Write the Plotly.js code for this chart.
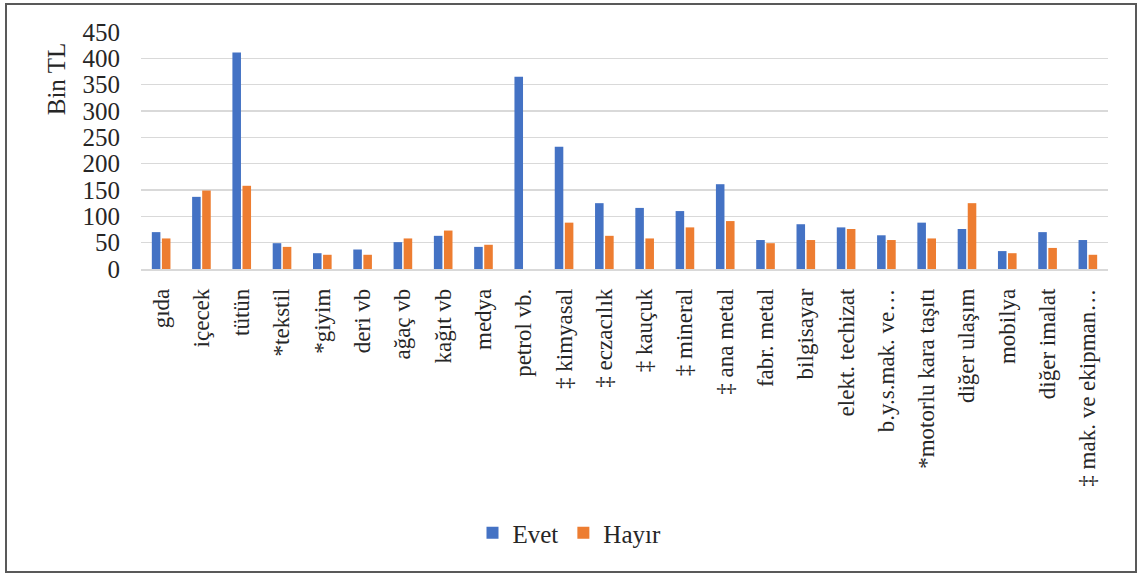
<!DOCTYPE html>
<html>
<head>
<meta charset="utf-8">
<script src="https://cdn.plot.ly/plotly-3.0.1.min.js"></script>
<style>
  html, body { margin: 0; padding: 0; background: #fff; }
  #wrap { position: relative; width: 1139px; height: 577px; }
  #chart { position: absolute; left: 0; top: 0; width: 1139px; height: 577px; }
  #frame { position: absolute; left: 5px; top: 3px; width: 1128px; height: 566px;
           border: 2px solid #595959; pointer-events: none; }
</style>
</head>
<body>
<div id="wrap">
  <div id="chart"></div>
  <div id="frame"></div>
</div>
<script>
// Sectors (x axis categories)
const sectors = [
  "gıda", "içecek", "tütün", "*tekstil", "*giyim", "deri vb", "ağaç vb",
  "kağıt vb", "medya", "petrol vb.", "‡ kimyasal", "‡ eczacılık", "‡ kauçuk",
  "‡ mineral", "‡ ana metal", "fabr. metal", "bilgisayar", "elekt. techizat",
  "b.y.s.mak. ve…", "*motorlu kara taşıtı", "diğer ulaşım", "mobilya",
  "diğer imalat", "‡ mak. ve ekipman…"
];

// Values in thousand TL
const evet = [70, 137, 411, 49, 30, 37, 51, 63, 42, 365, 232, 125, 116,
              110, 161, 55, 85, 79, 64, 88, 76, 34, 70, 55];
const hayir = [58, 149, 158, 42, 27, 27, 58, 73, 46, 0, 88, 63, 58,
               79, 91, 49, 55, 76, 55, 58, 125, 30, 40, 27];

const serif = "Liberation Serif";

const traces = [
  { type: "bar", name: "Evet", x: sectors, y: evet,
    marker: { color: "#4472C4" }, hoverinfo: "x+y+name" },
  { type: "bar", name: "Hayır", x: sectors, y: hayir,
    marker: { color: "#ED7D31" }, hoverinfo: "x+y+name" }
];

const layout = {
  width: 1139, height: 577,
  margin: { l: 141, r: 31, t: 32, b: 308 },
  paper_bgcolor: "#ffffff", plot_bgcolor: "#ffffff",
  barmode: "group", bargap: 0.5, bargroupgap: 0.15,
  font: { family: serif, color: "#262626" },
  xaxis: {
    type: "category",
    tickangle: -90,
    tickfont: { family: serif, size: 23, color: "#262626" },
    showgrid: false,
    showline: true, linecolor: "#d9d9d9", linewidth: 1.5,
    ticks: "", ticklabelstandoff: 9,
    fixedrange: true
  },
  yaxis: {
    range: [0, 450], dtick: 50, tick0: 0,
    tickfont: { family: serif, size: 25, color: "#262626" },
    gridcolor: "#d9d9d9", gridwidth: 1.5,
    zeroline: false, showline: false, ticks: "",
    ticklabelstandoff: 20,
    fixedrange: true
  },
  showlegend: true,
  legend: {
    orientation: "h", x: 0.5, xanchor: "center", xref: "container",
    yref: "container", yanchor: "middle",
    font: { family: serif, size: 25, color: "#262626" },
    itemwidth: 30, traceorder: "normal"
  },
  annotations: [{
    text: "Bin TL", xref: "paper", yref: "paper",
    x: -0.087, y: 0.8, xanchor: "center", yanchor: "middle",
    textangle: -90, showarrow: false,
    font: { family: serif, size: 25, color: "#262626" }
  }]
};

// legend y in container coordinates (0..1, bottom-up)
layout.legend.y = 1 - 533 / 577;

Plotly.newPlot("chart", traces, layout, { displayModeBar: false, staticPlot: true });
</script>
</body>
</html>
